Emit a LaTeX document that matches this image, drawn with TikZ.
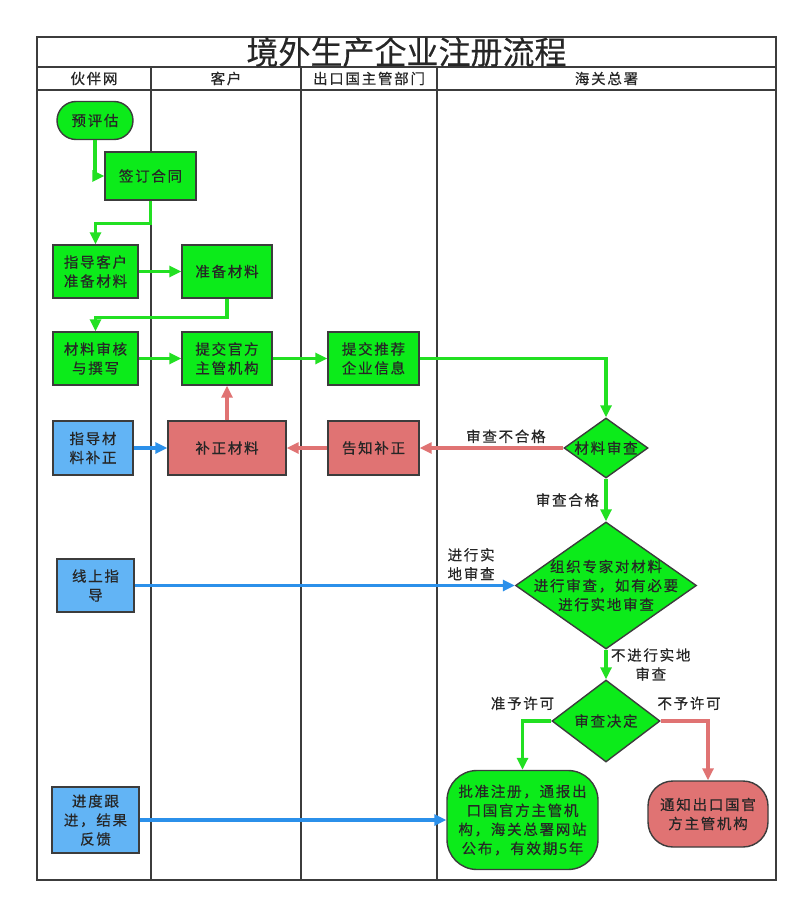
\documentclass[tikz,border=0pt]{standalone}
\usepackage{fontspec}
\usepackage{xcolor}
\setmainfont[LetterSpace=12, FakeBold=0.5]{Noto Sans CJK SC}
\newfontfamily\titlefont[FakeBold=0.3]{Noto Sans CJK SC}
\usetikzlibrary{shapes.geometric, arrows.meta, positioning}
\definecolor{FlowGreen}{HTML}{0CEB1A}
\definecolor{LineGreen}{HTML}{22E022}
\definecolor{FlowRed}{HTML}{E07373}
\definecolor{FlowBlue}{HTML}{62B4F5}
\definecolor{LineBlue}{HTML}{2B90EA}
\definecolor{FrameGray}{HTML}{3C3C3C}
\newcommand\flowfont{\fontsize{14.5}{19}\selectfont}
\tikzset{
  lane/.style={draw=FrameGray, line width=1.4pt},
  lanehead/.style={font=\flowfont, text=black!85},
  box/.style={draw=FrameGray, line width=1.4pt, font=\flowfont, align=center, inner sep=0pt, text=black!85},
  greenbox/.style={box, fill=FlowGreen},
  redbox/.style={box, fill=FlowRed},
  bluebox/.style={box, fill=FlowBlue},
  decision/.style={diamond, draw=FrameGray, line width=1.4pt, fill=FlowGreen, inner sep=0pt},
  edgelabel/.style={font=\flowfont, text=black!85, align=center},
  tip/.style={-{Triangle[length=12pt, width=11pt]}},
  goline/.style={LineGreen, line width=3.3pt, tip},
  noline/.style={FlowRed, line width=3.3pt, tip},
  helpline/.style={LineBlue, line width=3.3pt, tip}
}

\begin{document}
\begin{tikzpicture}[x=1pt, y=-1pt]
    \useasboundingbox (0,0) rectangle (800,904);
    \fill[white] (0,0) rectangle (800,904);

    % swimlane frame
    \draw[lane] (37,37) rectangle (776,880);
    \draw[lane] (37,67) -- (776,67);
    \draw[lane] (37,90) -- (776,90);
    \foreach \x in {151,301,437}
        \draw[lane] (\x,67) -- (\x,880);

    \node[font=\titlefont\fontsize{32}{32}\selectfont, text=black!85] (title) at (406.5,52) {境外生产企业注册流程};
    \node[lanehead] (huoban) at (94,78.5) {伙伴网};
    \node[lanehead] (kehu) at (226,78.5) {客户};
    \node[lanehead] (chukou) at (369,78.5) {出口国主管部门};
    \node[lanehead] (haiguan) at (606.5,78.5) {海关总署};

    % partner and client steps
    \node[greenbox, rounded corners=19pt, minimum width=76, minimum height=38] (pinggu) at (95,120.5) {预评估};
    \node[greenbox, minimum width=91, minimum height=48] (qianding) at (150.5,176) {签订合同};
    \node[greenbox, minimum width=85, minimum height=53] (zhidao) at (95.5,271.5) {指导客户\\准备材料};
    \node[greenbox, minimum width=90, minimum height=53] (zhunbei) at (227,271.5) {准备材料};
    \node[greenbox, minimum width=85, minimum height=53] (shenhe) at (95.5,358.5) {材料审核\\与撰写};
    \node[greenbox, minimum width=90, minimum height=53] (tijiao) at (227,358.5) {提交官方\\主管机构};
    \node[greenbox, minimum width=91, minimum height=53] (tuijian) at (373.5,358.5) {提交推荐\\企业信息};

    % correction loop
    \node[redbox, minimum width=91, minimum height=54] (gaozhi) at (373.5,448) {告知补正};
    \node[redbox, minimum width=118, minimum height=54] (buzheng) at (227,448) {补正材料};
    \node[bluebox, minimum width=80, minimum height=54] (zhidaobu) at (93,448) {指导材\\料补正};
    \node[bluebox, minimum width=77, minimum height=53] (xianshang) at (95.5,585.5) {线上指\\导};
    \node[bluebox, minimum width=87, minimum height=66] (jindu) at (95.5,820) {进度跟\\进，结果\\反馈};

    % customs decisions
    \node[decision, minimum width=84, minimum height=60,
          label={[font=\flowfont, text=black!85]center:材料审查}] (cailiao) at (606,448) {};
    \node[decision, minimum width=181, minimum height=127,
          label={[font=\flowfont, text=black!85, align=center]center:{组织专家对材料\\进行审查，如有必要\\进行实地审查}}] (zuzhi) at (606,585.5) {};
    \node[decision, minimum width=108, minimum height=82,
          label={[font=\flowfont, text=black!85]center:审查决定}] (jueding) at (606,721) {};
    \node[greenbox, rounded corners=30pt, minimum width=151, minimum height=99] (pizhun) at (522.5,820) {批准注册，通报出\\口国官方主管机\\构，海关总署网站\\公布，有效期5年};
    \node[redbox, rounded corners=25pt, minimum width=120, minimum height=66] (tongzhi) at (708,814) {通知出口国官\\方主管机构};

    % connectors
    \draw[goline] (pinggu.south) |- (qianding.west);
    \draw[goline] (qianding.south) -- ++(0,23) -| (zhidao.north);
    \draw[goline] (zhidao) -- (zhunbei);
    \draw[goline] (zhunbei.south) -- ++(0,19) -| (shenhe.north);
    \draw[goline] (shenhe) -- (tijiao);
    \draw[goline] (tijiao) -- (tuijian);
    \draw[goline] (tuijian.east) -| (cailiao.north);
    \draw[noline] (cailiao.west) -- node[edgelabel, above, pos=0.4] {审查不合格} (gaozhi.east);
    \draw[noline] (gaozhi) -- (buzheng);
    \draw[noline] (buzheng) -- (tijiao);
    \draw[helpline] (zhidaobu) -- (buzheng);
    \draw[goline] (cailiao.south) -- node[edgelabel, left, xshift=-2pt] {审查合格} (zuzhi.north);
    \draw[helpline] (xianshang) -- node[edgelabel, above, pos=0.885] {进行实\\地审查} (zuzhi.west);
    \draw[goline] (zuzhi.south) -- node[edgelabel, right] {不进行实地\\审查} (jueding.north);
    \draw[goline] (jueding.west) -| node[edgelabel, above, pos=0.5, yshift=6pt] {准予许可} (pizhun.north);
    \draw[noline] (jueding.east) -| node[edgelabel, above, pos=0.3, yshift=6pt] {不予许可} (tongzhi.north);
    \draw[helpline] (jindu) -- (pizhun);
\end{tikzpicture}
\end{document}
